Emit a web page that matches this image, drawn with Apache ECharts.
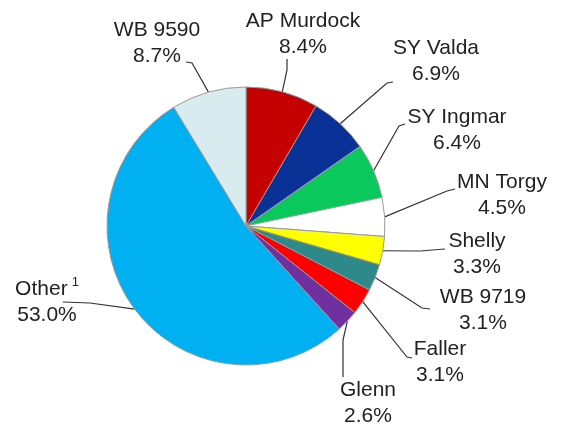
<!DOCTYPE html>
<html lang="en">
<head>
    <meta charset="UTF-8">
    <script type="text/javascript" src="https://cdn.jsdelivr.net/npm/echarts@6/dist/echarts.min.js"></script>
    <style>
        html, body { margin: 0; padding: 0; background: #ffffff; }
    </style>
</head>
<body>
    <div id="main" style="width: 566px; height: 428px;"></div>
    <script type="text/javascript">
        // slices, clockwise from 12 o'clock
        var names = ['AP Murdock', 'SY Valda', 'SY Ingmar', 'MN Torgy', 'Shelly', 'WB 9719', 'Faller', 'Glenn', 'Other', 'WB 9590'];
        var shares = [8.4, 6.9, 6.4, 4.5, 3.3, 3.1, 3.1, 2.6, 53.0, 8.7];
        var colors = ['#c40000', '#0a3296', '#0ac85c', '#ffffff', '#ffff00', '#2e8a8a', '#ff0000', '#7030a0', '#00b0f0', '#d8ecef'];
        var footnotes = { 'Other': '1' };

        // where each label block sits (center of the two text lines)
        var labelPos = [
            [303, 34], [436, 61], [457, 130], [502, 195], [477, 254],
            [483, 310], [440, 362], [368, 403], [47, 302], [157, 43]
        ];
        // leader line: bend point and end point next to the label
        var leaderEnds = [
            [[287, 70], [287, 59]],
            [[387, 83], [393, 82]],
            [[399, 126], [405, 124]],
            [[447, 191], [455, 189]],
            [[420, 251], [445, 249]],
            [[422, 308], [430, 309]],
            [[407, 357], [412, 358]],
            [[343, 340], [343, 377]],
            [[90, 303], [63, 302]],
            [[192, 63], [186, 62]]
        ];

        var pieData = [];
        names.forEach(function (n, i) {
            pieData.push({
                name: n,
                value: shares[i],
                itemStyle: { color: colors[i] }
            });
        });

        var myChart = echarts.init(document.getElementById('main'));
        var option = {
            backgroundColor: '#ffffff',
            animation: false,
            series: [
                {
                    type: 'pie',
                    center: [246, 226],
                    radius: 139,
                    startAngle: 90,
                    clockwise: true,
                    avoidLabelOverlap: false,
                    itemStyle: {
                        borderColor: '#9a9a9a',
                        borderWidth: 1
                    },
                    label: {
                        show: true,
                        position: 'outside',
                        fontFamily: '"Liberation Sans", Arial, sans-serif',
                        fontSize: 21,
                        lineHeight: 26,
                        color: '#222222',
                        align: 'center',
                        formatter: function (p) {
                            var sup = footnotes[p.name] ? '{s|' + footnotes[p.name] + '}' : '';
                            return p.name + sup + '\n' + p.value.toFixed(1) + '%';
                        },
                        rich: {
                            s: {
                                fontFamily: '"Liberation Sans", Arial, sans-serif',
                                fontSize: 13,
                                lineHeight: 13,
                                color: '#222222',
                                verticalAlign: 'top',
                                padding: [0, 0, 0, 4]
                            }
                        }
                    },
                    labelLine: {
                        show: true,
                        length: 20,
                        length2: 10,
                        lineStyle: { color: '#333333', width: 1.2 }
                    },
                    labelLayout: function (params) {
                        var pos = labelPos[params.dataIndex];
                        var ends = leaderEnds[params.dataIndex];
                        var anchor = params.labelLinePoints ? params.labelLinePoints[0] : ends[0];
                        return {
                            x: pos[0],
                            y: pos[1],
                            align: 'center',
                            verticalAlign: 'middle',
                            labelLinePoints: [anchor, ends[0], ends[1]]
                        };
                    },
                    emphasis: { disabled: true },
                    data: pieData
                }
            ]
        };
        myChart.setOption(option);
    </script>
</body>
</html>
